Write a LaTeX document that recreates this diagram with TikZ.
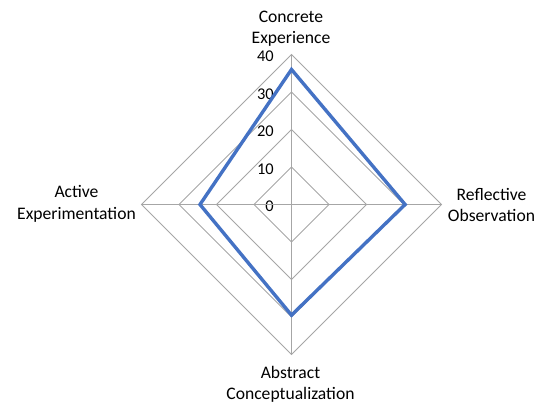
\documentclass[tikz,border=0pt]{standalone}
\usepackage{fontspec}
\setmainfont{Carlito}
\colorlet{grd}{black!35}
\definecolor{srs}{HTML}{4472C4}
\tikzset{
    gridline/.style={grd,line width=0.8pt},
    series/.style={srs,line width=3.4pt,line join=miter},
    axlabel/.style={align=center,inner sep=0pt,font=\fontsize{17.6}{21.5}\selectfont},
    ticklabel/.style={anchor=east,inner sep=0pt,font=\fontsize{16.4}{19}\selectfont}
}
\begin{document}
\begin{tikzpicture}[x=1pt,y=1pt]
    \useasboundingbox (-291.5,-197.5) rectangle (244.5,204.5);
    % one unit of the scale
    \def\u{3.75}
    % grid rings and tick labels
    \foreach \r in {10,20,30,40} {
        \draw [gridline] (0,\r*\u) -- (\r*\u,0) -- (0,-\r*\u) -- (-\r*\u,0) -- cycle;
    }
    \foreach \r in {0,10,20,30,40} {
        \node [ticklabel] (t\r) at (-17.5,\r*\u-2) {\r};
    }
    % axes
    \coordinate (o) at (0,0);
    \coordinate (ce) at (0,40*\u);
    \coordinate (ro) at (40*\u,0);
    \coordinate (ac) at (0,-40*\u);
    \coordinate (ae) at (-40*\u,0);
    \foreach \a in {ce,ro,ac,ae} {
        \draw [gridline] (o) -- (\a);
    }
    % data
    \coordinate (dce) at (0,36*\u);
    \coordinate (dro) at (30.3*\u,0);
    \coordinate (dac) at (0,-29.5*\u);
    \coordinate (dae) at (-24.4*\u,0);
    \draw [series] (dce) -- (dro) -- (dac) -- (dae) -- cycle;
    % axis names
    \node [axlabel] (lce) at (-0.5,176) {Concrete\\Experience};
    \node [axlabel] (lro) at (200,-0.5) {Reflective\\Observation};
    \node [axlabel] (lac) at (-1,-180) {Abstract\\Conceptualization};
    \node [axlabel] (lae) at (-215,0.5) {Active\\Experimentation};
\end{tikzpicture}
\end{document}
